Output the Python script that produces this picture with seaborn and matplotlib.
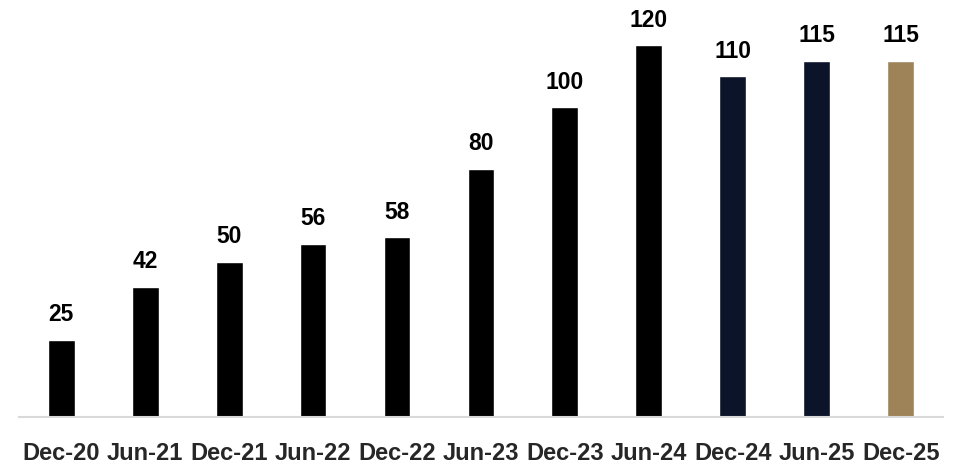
import matplotlib
matplotlib.use("Agg")
import matplotlib.pyplot as plt
import seaborn as sns
import pandas as pd

periods = ["Dec-20", "Jun-21", "Dec-21", "Jun-22", "Dec-22", "Jun-23",
           "Dec-23", "Jun-24", "Dec-24", "Jun-25", "Dec-25"]
values = [25, 42, 50, 56, 58, 80, 100, 120, 110, 115, 115]
bar_colors = ["#000000"] * 8 + ["#0B1429", "#0B1429", "#9E8358"]

sns.set_theme(style="white")
plt.rcParams["font.family"] = ["Liberation Sans", "DejaVu Sans"]

df = pd.DataFrame({"period": periods, "value": values})

fig = plt.figure(figsize=(9.59, 4.64), dpi=100)
ax = fig.add_axes([0.02, 0.099, 0.963, 0.901])

sns.barplot(data=df, x="period", y="value", hue="period", palette=bar_colors,
            width=0.32, legend=False, ax=ax, saturation=1)

# value labels above bars
for i, v in enumerate(values):
    ax.text(i, v + 4.8, str(v), ha="center", va="bottom",
            fontsize=16.5, fontweight="bold", color="black")

ax.set_ylim(0, 135)
ax.set_xlim(-0.5, len(periods) - 0.5)
ax.set_xlabel("")
ax.set_ylabel("")
ax.set_yticks([])
for s in ["top", "right", "left"]:
    ax.spines[s].set_visible(False)
ax.spines["bottom"].set_color("#D9D9D9")
ax.spines["bottom"].set_linewidth(1.5)
ax.tick_params(axis="x", length=0, pad=17, labelsize=17)
for lbl in ax.get_xticklabels():
    lbl.set_fontweight("bold")

fig.savefig("out.png", dpi=100)
